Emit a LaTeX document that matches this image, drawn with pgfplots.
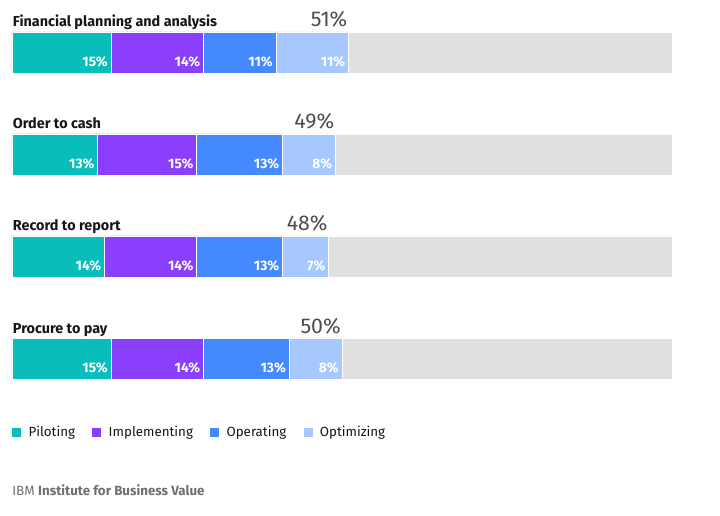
\documentclass[border=0pt]{standalone}
\usepackage{fontspec}
\setmainfont{Fira Sans}
\usepackage{pgfplots}
\pgfplotsset{compat=1.18}

\definecolor{pilot}{HTML}{08BDBA}
\definecolor{implem}{HTML}{8A3FFC}
\definecolor{operat}{HTML}{4589FF}
\definecolor{optim}{HTML}{A6C8FF}
\definecolor{rest}{HTML}{E0E0E0}
\definecolor{ink}{HTML}{161616}
\definecolor{totgrey}{HTML}{4D4D4D}
\definecolor{footgrey}{HTML}{6F6F6F}

\begin{document}
\begin{tikzpicture}[x=1pt,y=1pt]
% 1 px of the reference = 0.75pt
\useasboundingbox (-9,0) rectangle (531,387);
\begin{axis}[
    at={(0,0)}, anchor=south west,
    scale only axis, width=495pt, height=387pt,
    xmin=0, xmax=100, ymin=0, ymax=516, y dir=reverse,
    hide axis, clip=false,
    xbar stacked, bar width=30.75pt,
    visualization depends on={rawx \as \segw},
    every node near coord/.append style={anchor=base east,
        xshift={\segw*2.475pt-2.2pt}, yshift=-10.8pt,
        text=white, font=\fontsize{10.3}{12}\selectfont\bfseries, inner sep=0pt},
    legend columns=4,
    legend style={at={(axis cs:0,432.5)}, anchor=west, draw=none, fill=none,
        inner sep=0pt, font=\fontsize{10}{12}\selectfont\color{ink},
        /tikz/every even column/.append style={column sep=11pt},
        /tikz/every odd column/.append style={column sep=3.5pt}},
    legend image code/.code={\fill[#1,draw=none] (0pt,-3.4pt) rectangle (6.75pt,3.4pt);},
]
\addplot[fill=pilot, draw=white, line width=0.6pt, point meta=explicit symbolic,
    nodes near coords={\pgfplotspointmeta\%}]
    coordinates {(15,52.5)[15] (13,154.5)[13] (14,256.5)[14] (15,358.5)[15]};
\addlegendentry{Piloting}
\addplot[fill=implem, draw=white, line width=0.6pt, point meta=explicit symbolic,
    nodes near coords={\pgfplotspointmeta\%}]
    coordinates {(14,52.5)[14] (15,154.5)[15] (14,256.5)[14] (14,358.5)[14]};
\addlegendentry{Implementing}
\addplot[fill=operat, draw=white, line width=0.6pt, point meta=explicit symbolic,
    nodes near coords={\pgfplotspointmeta\%}]
    coordinates {(11,52.5)[11] (13,154.5)[13] (13,256.5)[13] (13,358.5)[13]};
\addlegendentry{Operating}
\addplot[fill=optim, draw=white, line width=0.6pt, point meta=explicit symbolic,
    nodes near coords={\pgfplotspointmeta\%}]
    coordinates {(11,52.5)[11] (8,154.5)[8] (7,256.5)[7] (8,358.5)[8]};
\addlegendentry{Optimizing}
\addplot[fill=rest, draw=white, line width=0.6pt, forget plot]
    coordinates {(49,52.5) (51,154.5) (52,256.5) (50,358.5)};

% category titles
\foreach \t/\y in {Financial planning and analysis/26.5, Order to cash/129, Record to report/231, Procure to pay/333}
  {\edef\tmp{\noexpand\node[anchor=base west, inner sep=0pt, text=ink,
      font=\noexpand\fontsize{10.8}{13}\noexpand\selectfont\noexpand\bfseries]
      at (axis cs:0.1,\y) {\t};}\tmp}
% totals
\foreach \v/\y in {51/27, 49/129, 48/231, 50/333}
  {\edef\tmp{\noexpand\node[anchor=base east, inner sep=0pt, text=totgrey,
      font=\noexpand\fontsize{16}{18}\noexpand\selectfont]
      at (axis cs:\v-0.15,\y) {\v\noexpand\%};}\tmp}
% footer
\node[anchor=base west, inner sep=0pt, text=footgrey, font=\fontsize{10}{12}\selectfont]
  at (axis cs:0,495.5) {IBM \textbf{Institute for Business Value}};
\end{axis}
\end{tikzpicture}
\end{document}
